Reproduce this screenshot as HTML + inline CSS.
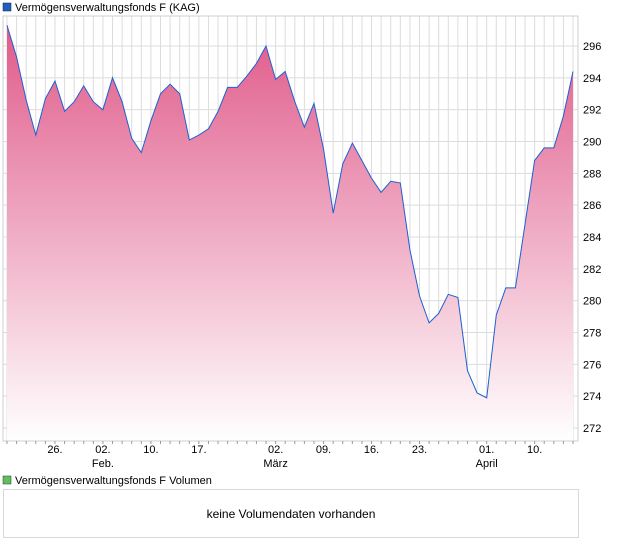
<!DOCTYPE html>
<html><head><meta charset="utf-8"><style>
body{margin:0;background:#fff;font-family:"Liberation Sans",sans-serif;}
svg{display:block}
</style></head><body>
<svg width="620" height="546" id="c" font-family="Liberation Sans, sans-serif">
<defs><linearGradient id="g" x1="0" y1="0" x2="0" y2="1">
<stop offset="0" stop-color="#e05a8a"/><stop offset="1" stop-color="#ffffff"/></linearGradient></defs>
<rect x="3" y="3" width="8" height="8" fill="#1f5fbf" stroke="#123" stroke-width="0.5"/>
<text x="15" y="11" font-size="11" fill="#000">Vermögensverwaltungsfonds F (KAG)</text>
<g id="grid"></g>
<path id="area" fill="url(#g)"/>
<path id="line" fill="none" stroke="#1f5fd0" stroke-width="1"/>
<rect x="3" y="16" width="575" height="425" fill="none" stroke="#cfcfcf"/>
<g id="axes"></g>
<rect x="3" y="476" width="8" height="8" fill="#5cc05c" stroke="#333" stroke-width="0.5"/>
<text x="15" y="484" font-size="11" fill="#000">Vermögensverwaltungsfonds F Volumen</text>
<rect x="3.5" y="489.5" width="575" height="48" fill="none" stroke="#d8d8d8"/>
<text x="291" y="518" font-size="12" text-anchor="middle" fill="#000">keine Volumendaten vorhanden</text>
</svg>
<script>
const values=[297.3,295.3,292.6,290.4,292.7,293.8,291.9,292.5,293.5,292.5,292.0,294.0,292.5,290.2,289.3,291.3,293.0,293.6,293.0,290.1,290.4,290.8,291.9,293.4,293.4,294.1,294.9,296.0,293.9,294.4,292.5,290.9,292.4,289.5,285.5,288.6,289.9,288.8,287.7,286.8,287.5,287.4,283.2,280.3,278.6,279.2,280.4,280.2,275.6,274.2,273.9,279.1,280.8,280.8,284.8,288.8,289.6,289.6,291.6,294.4];
const yTicks=[272,274,276,278,280,282,284,286,288,290,292,294,296];
const xTickIdx=[5,10,15,20,28,33,38,43,50,55];
const xTickLabels=["26.","02.","10.","17.","02.","09.","16.","23.","01.","10."];
const monthIdx=[10,28,50];
const monthLabels=["Feb.","März","April"];
const NS="http://www.w3.org/2000/svg";
const x=i=>7+i*(573-7)/59;
const y=v=>46+(296-v)*(428-46)/24;
function mk(t,a,p){const e=document.createElementNS(NS,t);for(const k in a)e.setAttribute(k,a[k]);p.appendChild(e);return e;}
const grid=document.getElementById('grid'),axes=document.getElementById('axes');
for(let i=0;i<values.length;i++){const l=mk('line',{x1:x(i),x2:x(i),y1:16,y2:441,stroke:'#dcdcdc'},grid);


const t=mk('line',{x1:x(i),x2:x(i),y1:441,y2:444,stroke:'#999'},axes);

}
yTicks.forEach(v=>{const l=mk('line',{x1:3,x2:578,y1:y(v),y2:y(v),stroke:'#dcdcdc'},grid);


const t=mk('text',{x:583,y:y(v)+4,'font-size':11,fill:'#000'},axes);t.textContent=v;

});
xTickIdx.forEach((i,k)=>{const t=mk('text',{x:x(i),y:453,'font-size':11,'text-anchor':'middle',fill:'#000'},axes);t.textContent=xTickLabels[k];

});
monthIdx.forEach((i,k)=>{const t=mk('text',{x:x(i),y:467,'font-size':11,'text-anchor':'middle',fill:'#000'},axes);t.textContent=monthLabels[k];

});
let d=values.map((v,i)=>(i?'L':'M')+x(i).toFixed(1)+','+y(v).toFixed(1)).join('');
document.getElementById('line').setAttribute('d',d);
document.getElementById('area').setAttribute('d',d+'L'+x(values.length-1)+',441L'+x(0)+',441Z');
</script>
</body></html>
